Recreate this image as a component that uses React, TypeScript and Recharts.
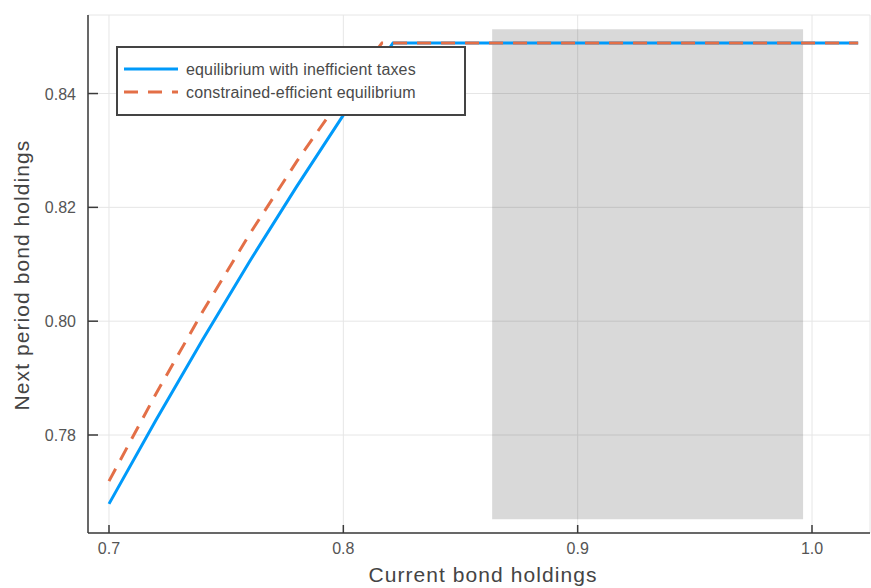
import React from 'react';
import { LineChart, Line, XAxis, YAxis, CartesianGrid, ReferenceArea, Legend } from 'recharts';

// ---- data ----
const blueX = [0.7, 0.72, 0.74, 0.76, 0.78, 0.8, 0.8212, 1.0197];
const blueY = [0.7679, 0.7826, 0.7968, 0.8105, 0.8236, 0.8362, 0.8489, 0.8489];
const orangeX = [0.7, 0.72, 0.74, 0.76, 0.78, 0.8, 0.8165, 1.0197];
const orangeY = [0.7719, 0.7872, 0.8017, 0.8153, 0.828, 0.8398, 0.8489, 0.8489];
const shadeX = [0.8635, 0.9962];
const shadeY = [0.7652, 0.8513];
const xTicks = [0.7, 0.8, 0.9, 1.0];
const xTickLabels = ['0.7', '0.8', '0.9', '1.0'];
const yTicks = [0.78, 0.8, 0.82, 0.84];
const yTickLabels = ['0.78', '0.80', '0.82', '0.84'];
const seriesNames = ['equilibrium with inefficient taxes', 'constrained-efficient equilibrium'];
const xTitle = 'Current bond holdings';
const yTitle = 'Next period bond holdings';

const blueData = blueX.map((x, i) => ({ x, y: blueY[i] }));
const orangeData = orangeX.map((x, i) => ({ x, y: orangeY[i] }));

const BLUE = '#009AFA';
const ORANGE = '#E36F47';
const FONT = '"Liberation Sans", Arial, Helvetica, sans-serif';
const AXIS = '#3a3a3a';
const DASH = '14 10';

const XTick = (props: any) => {
  const { x, y, payload } = props;
  const idx = xTicks.findIndex((t) => Math.abs(t - payload.value) < 1e-9);
  return (
    <g>
      <line x1={x} y1={y} x2={x} y2={y - 8} stroke={AXIS} strokeWidth={1.5} />
      <text x={x} y={y + 21} textAnchor="middle" fontSize={16} fill="#555" fontFamily={FONT}>
        {idx >= 0 ? xTickLabels[idx] : ''}
      </text>
    </g>
  );
};

const YTick = (props: any) => {
  const { x, y, payload } = props;
  const idx = yTicks.findIndex((t) => Math.abs(t - payload.value) < 1e-9);
  return (
    <g>
      <line x1={x} y1={y} x2={x + 10} y2={y} stroke={AXIS} strokeWidth={1.5} />
      <text x={x - 12} y={y + 6} textAnchor="end" fontSize={16} fill="#555" fontFamily={FONT}>
        {idx >= 0 ? yTickLabels[idx] : ''}
      </text>
    </g>
  );
};

const LegendBox = () => (
  <div style={{ width: 346, height: 66, border: '2px solid #444', background: '#fff', boxSizing: 'content-box' }}>
    <svg width={346} height={66} style={{ display: 'block' }}>
      <line x1={6} y1={21} x2={60} y2={21} stroke={BLUE} strokeWidth={3} />
      <text x={68} y={27} fontSize={16} fill="#4a4a4a" fontFamily={FONT} letterSpacing={0.15}>
        {seriesNames[0]}
      </text>
      <line x1={6} y1={44} x2={60} y2={44} stroke={ORANGE} strokeWidth={3} strokeDasharray={DASH} />
      <text x={68} y={50} fontSize={16} fill="#4a4a4a" fontFamily={FONT} letterSpacing={0.15}>
        {seriesNames[1]}
      </text>
    </svg>
  </div>
);

export default function App() {
  return (
    <div style={{ position: 'absolute', left: 0, top: 0, width: 871, height: 588, background: '#fff' }}>
      <LineChart width={871} height={588} margin={{ top: 15, right: 1, left: 0, bottom: 0 }}>
        <CartesianGrid stroke="#e6e6e6" strokeWidth={1} />
        <ReferenceArea
          x1={shadeX[0]}
          x2={shadeX[1]}
          y1={shadeY[0]}
          y2={shadeY[1]}
          fill="#000"
          fillOpacity={0.15}
          stroke="none"
          ifOverflow="visible"
        />
        <XAxis
          type="number"
          dataKey="x"
          domain={[0.69104, 1.02475]}
          allowDataOverflow
          ticks={xTicks}
          height={55}
          tickLine={false}
          tickSize={0}
          tickMargin={0}
          axisLine={{ stroke: AXIS, strokeWidth: 1.5 }}
          tick={<XTick />}
          interval={0}
          label={{
            content: () => (
              <text x={483} y={582} textAnchor="middle" fontSize={21} fill="#444" fontFamily={FONT} letterSpacing={1.07}>
                {xTitle}
              </text>
            ),
          }}
        />
        <YAxis
          type="number"
          dataKey="y"
          domain={[0.76278, 0.8538]}
          allowDataOverflow
          ticks={yTicks}
          width={88}
          tickLine={false}
          tickSize={0}
          tickMargin={0}
          axisLine={{ stroke: AXIS, strokeWidth: 1.5 }}
          tick={<YTick />}
          interval={0}
          label={{
            content: () => (
              <text
                x={29}
                y={275}
                transform="rotate(-90 29 275)"
                textAnchor="middle"
                fontSize={21}
                fill="#444"
                fontFamily={FONT}
                letterSpacing={1.07}
              >
                {yTitle}
              </text>
            ),
          }}
        />
        <Legend
          layout="vertical"
          align="center"
          verticalAlign="middle"
          content={() => <LegendBox />}
          wrapperStyle={{ position: 'absolute', left: 116, top: 46, width: 350, height: 70, margin: 0, padding: 0 }}
        />
        <Line
          data={blueData}
          dataKey="y"
          type="linear"
          stroke={BLUE}
          strokeWidth={3}
          dot={false}
          activeDot={false}
          isAnimationActive={false}
          name={seriesNames[0]}
        />
        <Line
          data={orangeData}
          dataKey="y"
          type="linear"
          stroke={ORANGE}
          strokeWidth={3}
          strokeDasharray={DASH}
          dot={false}
          activeDot={false}
          isAnimationActive={false}
          name={seriesNames[1]}
        />
      </LineChart>
    </div>
  );
}
